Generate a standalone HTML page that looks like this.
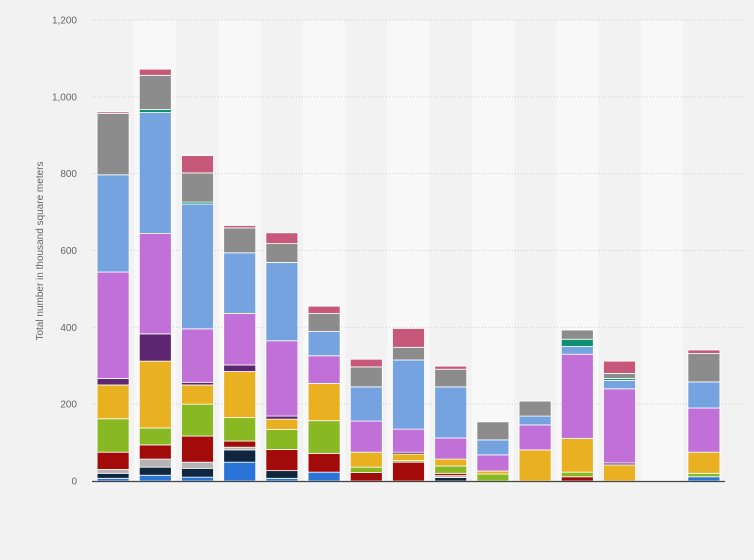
<!DOCTYPE html>
<html><head><meta charset="utf-8"><style>
html,body{margin:0;padding:0;background:#f2f2f2;}
svg{display:block;font-family:"Liberation Sans",sans-serif;}
</style></head><body>
<svg id="chart" width="754" height="560"></svg>
<script>
const categories = ["c1","c2","c3","c4","c5","c6","c7","c8","c9","c10","c11","c12","c13","c14","c15"];
const seriesNames = ["s-blue","s-navy","s-lightgray","s-darkred","s-green","s-yellow","s-purple","s-violet","s-lightblue","s-teal","s-gray","s-pink"];
const seriesColors = ["#2a74d8","#10263f","#b4b4b4","#a30b0b","#88b923","#e9b122","#5c2770","#c170d8","#74a3e0","#0e8f70","#8c8c8c","#c8587a"];
const s0 = [7,15,10,49,7,23,0,0,0,0,0,0,0,0,11];
const s1 = [13,21,23,32,20,0,0,0,9,0,0,0,0,0,0];
const s2 = [10,21,16,7,0,0,0,0,5,0,0,0,0,0,0];
const s3 = [45,37,68,16,55,49,22,49,6,0,0,11,0,0,0];
const s4 = [87,44,83,61,52,85,14,4,19,18,0,12,0,0,9];
const s5 = [88,174,50,120,27,97,39,17,18,8,81,88,42,0,55];
const s6 = [17,71,7,17,8,0,0,5,0,0,0,0,5,0,0];
const s7 = [277,261,139,134,196,72,81,60,55,42,65,219,193,0,115];
const s8 = [253,315,325,158,204,63,89,180,133,39,23,20,22,0,68];
const s9 = [0,8,5,0,0,0,0,0,0,0,0,19,5,0,0];
const s10 = [160,89,76,65,49,47,52,33,46,47,39,24,13,0,74];
const s11 = [4,16,45,6,28,19,20,49,8,0,0,0,32,0,9];
const series = [s0,s1,s2,s3,s4,s5,s6,s7,s8,s9,s10,s11];
const yTicks = [0,200,400,600,800,1000,1200];
const yTickLabels = ["0","200","400","600","800","1,000","1,200"];

const NS="http://www.w3.org/2000/svg";
const svg=document.getElementById('chart');
const x0=92, step=42.2, barW=32, yBase=481, yTop=20, yMax=1200;
const y=v=>yBase-(v/yMax)*(yBase-yTop);
const xc=i=>x0+step*(i+0.5);
function mk(t,a){const e=document.createElementNS(NS,t);for(const k in a)e.setAttribute(k,a[k]);svg.appendChild(e);return e;}

categories.forEach((c,i)=>{
  if(i%2===1){
    const b=mk('rect',{x:x0+step*i,y:yTop,width:step,height:yBase-yTop,fill:'#f8f8f8'});
    
    
  }
});
yTicks.forEach((t,i)=>{
  if(t>0){
    const g=mk('line',{x1:x0,x2:748,y1:y(t),y2:y(t),stroke:'#cfcfcf','stroke-dasharray':'1,2','stroke-width':1});
    
    
  }
  const l=mk('text',{x:77,y:y(t)+3.5,'text-anchor':'end','font-size':'10',fill:'#666'});
  l.textContent=yTickLabels[i];
  
  
});
const at=mk('text',{x:0,y:0,'text-anchor':'middle','font-size':'10',fill:'#666',transform:'translate(43,251) rotate(-90)'});
at.textContent='Total number in thousand square meters';



categories.forEach((c,i)=>{
  let cum=0;
  series.forEach((s,k)=>{
    const v=s[i]; if(!v) return;
    const r=mk('rect',{x:xc(i)-barW/2,y:y(cum+v),width:barW,height:y(cum)-y(cum+v),fill:seriesColors[k],stroke:'#fff','stroke-width':0.8});
    
    
    cum+=v;
  });
});
const ax=mk('line',{x1:x0,x2:725,y1:yBase+0.5,y2:yBase+0.5,stroke:'#444','stroke-width':1.2});


</script>
</body></html>
